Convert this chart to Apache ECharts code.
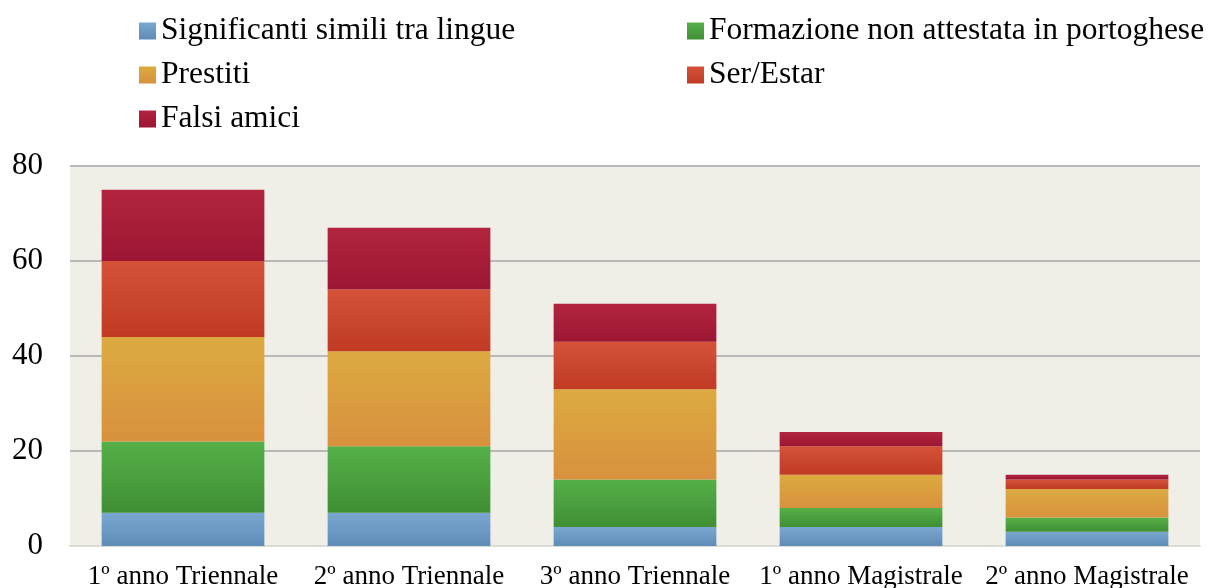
<!DOCTYPE html>
<html>
<head>
<meta charset="utf-8">
<script src="https://cdn.jsdelivr.net/npm/echarts@6/dist/echarts.min.js"></script>
<style>
  html, body { margin: 0; padding: 0; background: #ffffff; }
  #chart { width: 1211px; height: 588px; }
</style>
</head>
<body>
<div id="chart"></div>
<script>
// categorie e valori
var categories = ["1º anno Triennale", "2º anno Triennale", "3º anno Triennale", "1º anno Magistrale", "2º anno Magistrale"];
var significanti = [7, 7, 4, 4, 3];
var formazione = [15, 14, 10, 4, 3];
var prestiti = [22, 20, 19, 7, 6];
var serEstar = [16, 13, 10, 6, 2];
var falsiAmici = [15, 13, 8, 3, 1];
var yTicks = [0, 20, 40, 60, 80];

var FONT = "'Liberation Serif', 'Times New Roman', serif";

function grad(c1, c2) {
  return new echarts.graphic.LinearGradient(0, 0, 0, 1, [
    { offset: 0, color: c1 },
    { offset: 1, color: c2 }
  ]);
}

function serie(name, data, c1, c2) {
  return {
    name: name,
    type: "bar",
    stack: "tot",
    barWidth: "72%",
    data: data,
    itemStyle: { color: grad(c1, c2) }
  };
}

var legendBase = {
  orient: "vertical",
  top: 10,
  itemWidth: 17,
  itemHeight: 17,
  itemGap: 12,
  icon: "rect",
  textStyle: { fontFamily: FONT, fontSize: 31.5, color: "#000" }
};

var myChart = echarts.init(document.getElementById("chart"));
myChart.setOption({
  animation: false,
  legend: [
    Object.assign({}, legendBase, {
      left: 134,
      data: ["Significanti simili tra lingue", "Prestiti", "Falsi amici"]
    }),
    Object.assign({}, legendBase, {
      left: 682,
      data: ["Formazione non attestata in portoghese", "Ser/Estar"]
    })
  ],
  grid: {
    left: 70,
    right: 11,
    top: 166,
    bottom: 42,
    outerBoundsMode: "none",
    containLabel: false,
    show: true,
    backgroundColor: "#f0efe7",
    borderWidth: 0
  },
  xAxis: {
    type: "category",
    data: categories,
    axisTick: { show: false },
    axisLine: { lineStyle: { color: "#dcdcd6", width: 2 } },
    axisLabel: { fontFamily: FONT, fontSize: 27, color: "#000", margin: 17, interval: 0 }
  },
  yAxis: {
    type: "value",
    min: yTicks[0],
    max: yTicks[yTicks.length - 1],
    interval: 20,
    axisLine: { show: false },
    axisTick: { show: false },
    splitLine: { lineStyle: { color: "#b9b9b9", width: 2 } },
    axisLabel: { fontFamily: FONT, fontSize: 31, color: "#000", margin: 27 }
  },
  series: [
    serie("Significanti simili tra lingue", significanti, "#7aa7cf", "#5f8db8"),
    serie("Formazione non attestata in portoghese", formazione, "#55b048", "#3f8f34"),
    serie("Prestiti", prestiti, "#dcaa40", "#d8913e"),
    serie("Ser/Estar", serEstar, "#d55238", "#c03a24"),
    serie("Falsi amici", falsiAmici, "#b2243f", "#9c1633")
  ]
});
</script>
</body>
</html>
